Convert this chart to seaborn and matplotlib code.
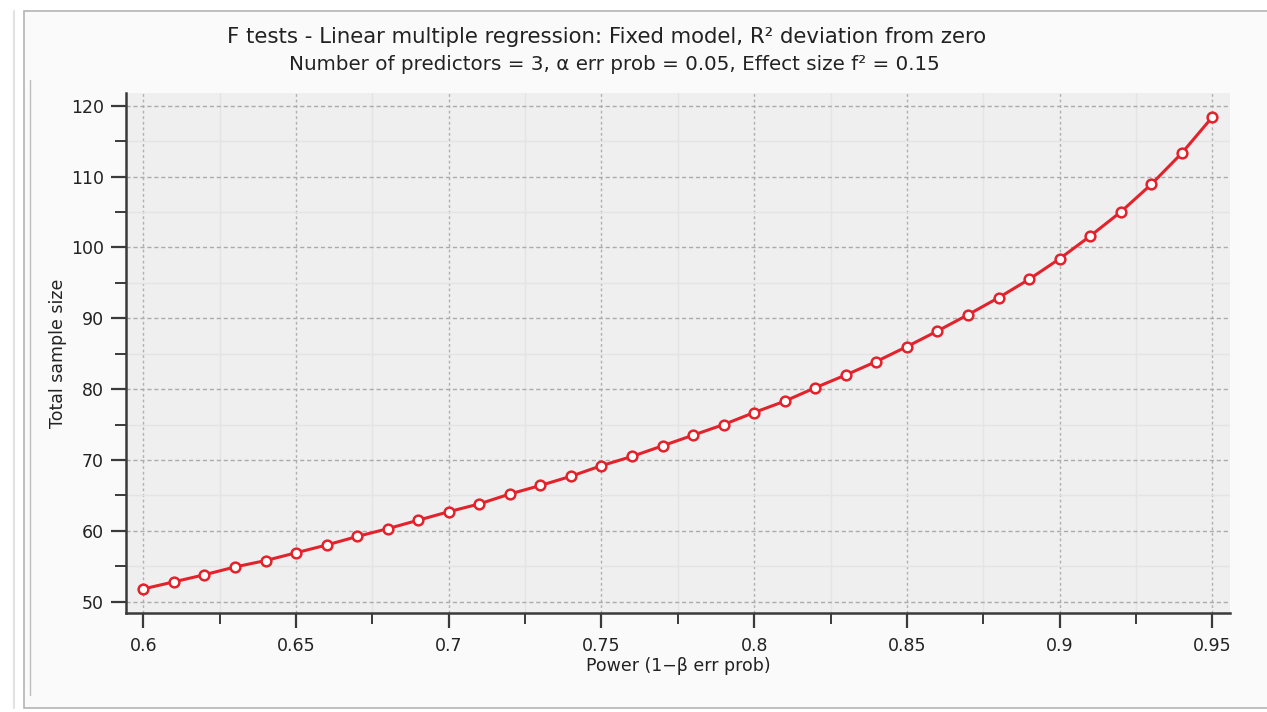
import numpy as np
import pandas as pd
import matplotlib
matplotlib.use("Agg")
import matplotlib.pyplot as plt
from matplotlib.patches import Rectangle
from matplotlib.lines import Line2D
from matplotlib.ticker import MultipleLocator
import seaborn as sns

# ---- data ----
power = [0.60, 0.61, 0.62, 0.63, 0.64, 0.65, 0.66, 0.67, 0.68, 0.69,
         0.70, 0.71, 0.72, 0.73, 0.74, 0.75, 0.76, 0.77, 0.78, 0.79,
         0.80, 0.81, 0.82, 0.83, 0.84, 0.85, 0.86, 0.87, 0.88, 0.89,
         0.90, 0.91, 0.92, 0.93, 0.94, 0.95]
sample_size = [51.8, 52.8, 53.8, 54.9, 55.8, 56.9, 58.0, 59.2, 60.3, 61.5,
               62.7, 63.8, 65.2, 66.4, 67.7, 69.2, 70.5, 72.0, 73.5, 75.0,
               76.7, 78.3, 80.2, 82.0, 83.9, 86.0, 88.2, 90.5, 92.9, 95.5,
               98.4, 101.6, 105.0, 108.9, 113.3, 118.4]
x_ticks = [0.6, 0.65, 0.7, 0.75, 0.8, 0.85, 0.9, 0.95]
x_tick_labels = ["0.6", "0.65", "0.7", "0.75", "0.8", "0.85", "0.9", "0.95"]
y_ticks = [50, 60, 70, 80, 90, 100, 110, 120]
y_tick_labels = ["50", "60", "70", "80", "90", "100", "110", "120"]

title = "F tests - Linear multiple regression: Fixed model, R² deviation from zero"
subtitle = "Number of predictors = 3, α err prob = 0.05, Effect size f² = 0.15"
xlabel = "Power (1−β err prob)"
ylabel = "Total sample size"

df = pd.DataFrame({"power": power, "n": sample_size})

sns.set_theme(style="white")
plt.rcParams['font.family'] = ['DejaVu Sans']

W, H = 1267, 712
fig = plt.figure(figsize=(W / 100, H / 100), dpi=100, facecolor="white")

# panel frame (behind everything)
fig.patches.append(Rectangle((24 / W, 1 - 708 / H), (W - 24 + 10) / W, (708 - 11) / H,
                             transform=fig.transFigure, facecolor="#fafafa",
                             edgecolor="#b4b4b4", linewidth=1.2, zorder=-10))
fig.lines.append(Line2D([30 / W, 30 / W], [1 - 80 / H, 1 - 695 / H], transform=fig.transFigure,
                        color="#bdbdbd", linewidth=1, zorder=-9))
fig.lines.append(Line2D([14 / W, 14 / W], [1 - 11 / H, 1 - 708 / H], transform=fig.transFigure,
                        color="#e2e2e2", linewidth=1.5, zorder=-9))

ax = fig.add_axes([126 / W, 1 - 613 / H, (1230 - 126) / W, (613 - 93) / H])
ax.set_zorder(5)
ax.set_facecolor("#efefef")

red = "#e3222b"
sns.lineplot(data=df, x="power", y="n", ax=ax, color=red, linewidth=2.2,
             marker="o", markersize=7, markerfacecolor="white",
             markeredgecolor=red, markeredgewidth=1.8, zorder=5)

ax.set_xlim(0.5943, 0.9558)
ax.set_ylim(48.4, 121.8)
ax.set_xticks(x_ticks)
ax.set_xticklabels(x_tick_labels)
ax.set_yticks(y_ticks)
ax.set_yticklabels(y_tick_labels)
ax.xaxis.set_minor_locator(MultipleLocator(0.025))
ax.yaxis.set_minor_locator(MultipleLocator(5))

ax.set_axisbelow(True)
ax.grid(which="major", axis="y", color="#ababab", linestyle=(0, (3, 2)), linewidth=1.0)
ax.grid(which="major", axis="x", color="#b0b0b0", linestyle=(0, (2, 2)), linewidth=1.0)
ax.grid(which="minor", color="#e4e4e4", linestyle="-", linewidth=1.0)

for s in ["top", "right"]:
    ax.spines[s].set_visible(False)
for s in ["left", "bottom"]:
    ax.spines[s].set_color("#3a3a3a")
    ax.spines[s].set_linewidth(1.8)

ax.tick_params(axis="both", which="major", direction="out", length=11, width=1.6,
               color="#3a3a3a", labelsize=12.5, labelcolor="#222222", pad=5, bottom=True, left=True)
ax.tick_params(axis="both", which="minor", direction="out", length=8, width=1.4,
               color="#3a3a3a", bottom=True, left=True)
ax.tick_params(axis="x", which="major", pad=6)

ax.set_xlabel(xlabel, fontsize=12.5, color="#222222", labelpad=2)
ax.set_ylabel(ylabel, fontsize=12.5, color="#222222", labelpad=3)

fig.text(607 / W, 1 - 37 / H, title, ha="center", va="center", fontsize=15.3, color="#222222")
fig.text(614 / W, 1 - 65 / H, subtitle, ha="center", va="center", fontsize=14.3, color="#222222")

fig.savefig("out.png", dpi=100, facecolor=fig.get_facecolor())
